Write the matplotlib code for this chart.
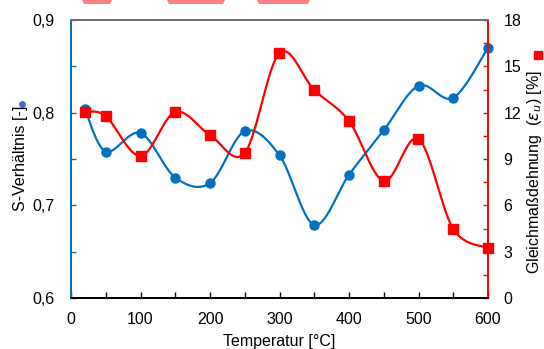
import numpy as np
import matplotlib
matplotlib.use("Agg")
import matplotlib.pyplot as plt
from matplotlib.ticker import MultipleLocator, FuncFormatter
from matplotlib.patches import Polygon

plt.rcParams['font.family'] = ['Liberation Sans', 'DejaVu Sans']

# data
temperatur = [20, 50, 100, 150, 200, 250, 300, 350, 400, 450, 500, 550, 600]
s_verhaeltnis = [0.804, 0.758, 0.778, 0.730, 0.724, 0.780, 0.754, 0.679, 0.733, 0.781, 0.829, 0.816, 0.870]
gleichmass = [12.04, 11.78, 9.19, 12.04, 10.55, 9.39, 15.86, 13.47, 11.46, 7.58, 10.29, 4.47, 3.24]

BLUE = '#0070C0'
RED = '#FF0000'

W, H = 544, 349
AX_L, AX_R, AX_T, AX_B = 71, 488, 20, 298


def excel_smooth(x, y, xr, yr, n=30):
    # Catmull-Rom like Excel "smoothed line", done in pixel space
    sx = (AX_R - AX_L) / (xr[1] - xr[0])
    sy = (AX_B - AX_T) / (yr[1] - yr[0])
    p = np.column_stack([(np.asarray(x) - xr[0]) * sx, (np.asarray(y) - yr[0]) * sy])
    p = np.vstack([p[0], p, p[-1]])
    out = []
    t = np.linspace(0, 1, n)[:, None]
    for i in range(1, len(p) - 2):
        p0, p1, p2, p3 = p[i - 1], p[i], p[i + 1], p[i + 2]
        c1 = p1 + (p2 - p0) / 6
        c2 = p2 - (p3 - p1) / 6
        seg = ((1 - t) ** 3) * p1 + 3 * ((1 - t) ** 2) * t * c1 + 3 * (1 - t) * t ** 2 * c2 + t ** 3 * p2
        out.append(seg if i == 1 else seg[1:])
    out = np.vstack(out)
    return out[:, 0] / sx + xr[0], out[:, 1] / sy + yr[0]


fig = plt.figure(figsize=(W / 100, H / 100), dpi=100)
ax = fig.add_axes([AX_L / W, 1 - AX_B / H, (AX_R - AX_L) / W, (AX_B - AX_T) / H])
ax2 = ax.twinx()

xr = (0, 600)
yl = (0.6, 0.9)
yr2 = (0, 18)

sx, sy = excel_smooth(temperatur, s_verhaeltnis, xr, yl)
ax.plot(sx, sy, color=BLUE, lw=1.6, zorder=3)
ax.plot(temperatur, s_verhaeltnis, 'o', color=BLUE, ms=6.5, zorder=4, clip_on=False)

gx, gy = excel_smooth(temperatur, gleichmass, xr, yr2)
ax2.plot(gx, gy, color=RED, lw=1.6, zorder=3)
ax2.plot(temperatur, gleichmass, 's', color=RED, ms=6.5, zorder=4, clip_on=False)

ax.set_xlim(*xr)
ax.set_ylim(*yl)
ax2.set_ylim(*yr2)

ax.xaxis.set_major_locator(MultipleLocator(100))
ax.xaxis.set_minor_locator(MultipleLocator(50))
ax.yaxis.set_major_locator(MultipleLocator(0.1))
ax.yaxis.set_minor_locator(MultipleLocator(0.05))
ax.yaxis.set_major_formatter(FuncFormatter(lambda v, _: f"{v:.1f}".replace('.', ',')))
ax2.yaxis.set_major_locator(MultipleLocator(3))
ax2.yaxis.set_minor_locator(MultipleLocator(1.5))

ax.tick_params(axis='x', which='both', direction='in', length=4, width=1, top=False,
               labelsize=11.5, pad=10, color='black')
ax.tick_params(axis='y', which='both', direction='in', length=3.5, width=1, colors=BLUE,
               labelcolor='black', labelsize=11.5, pad=12)
ax2.tick_params(axis='y', which='both', direction='in', length=3.5, width=1, colors=RED,
                labelcolor='black', labelsize=11.5, pad=11)

for a in (ax, ax2):
    a.spines['left'].set_color(BLUE)
    a.spines['right'].set_color(RED)
    a.spines['top'].set_color('#707070')
    a.spines['bottom'].set_color('black')
    for s in a.spines.values():
        s.set_linewidth(1.3)

ax.set_xlabel('Temperatur [°C]', fontsize=11.5, labelpad=5)
fig.text(21 / W, 1 - 158 / H, 'S-Verhältnis [-]', rotation=90, fontsize=11.5,
         ha='center', va='center')
fig.text(535 / W, 1 - 172 / H, r'Gleichmaßdehnung  ($\varepsilon_u$) [%]', rotation=90,
         fontsize=11.5, ha='center', va='center')

# legend keys that sit in the axis titles
fig.lines.append(plt.Line2D([22 / W], [1 - 104 / H], marker='o', color='#4472C4', ms=4,
                            transform=fig.transFigure))
fig.lines.append(plt.Line2D([538 / W], [1 - 55 / H], marker='s', color=RED, ms=6,
                            transform=fig.transFigure))

# watermark remnants at the top edge
for x0, x1 in [(82, 112), (167, 225), (257, 310)]:
    fig.patches.append(Polygon([(x0 / W, 1), (x1 / W, 1), ((x1 - 2) / W, 1 - 4 / H),
                                ((x0 + 2) / W, 1 - 4 / H)], closed=True,
                               transform=fig.transFigure, color='#FF8080', lw=0))

fig.savefig('out.png', dpi=100)
